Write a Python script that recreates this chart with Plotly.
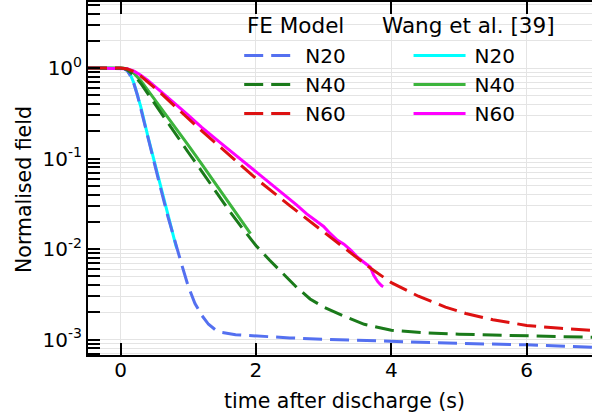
import plotly.graph_objects as go

# ---- data ----
t_fe20 = [-0.48, 0.0, 0.05, 0.1, 0.15, 0.2, 0.25, 0.3, 0.4, 0.5, 0.6, 0.7, 0.8, 0.9, 1.0, 1.1, 1.2, 1.3,
          1.4, 1.5, 1.7, 2.0, 2.5, 3.0, 4.0, 5.0, 6.0, 7.0]
v_fe20 = [1.0, 1.0, 0.989, 0.933, 0.813, 0.661, 0.501, 0.355, 0.174, 0.0871, 0.0447, 0.0229, 0.0123,
          0.00692, 0.00389, 0.00251, 0.00186, 0.00148, 0.00129, 0.00120, 0.001135, 0.001096, 0.001047,
          0.00101, 0.000955, 0.000912, 0.000877, 0.000822]

t_fe40 = [-0.48, 0.0, 0.05, 0.1, 0.2, 0.3, 0.4, 0.5, 0.6, 0.8, 1.0, 1.2, 1.4, 1.6, 1.8, 2.0, 2.2, 2.4,
          2.6, 2.8, 3.0, 3.3, 3.6, 4.0, 4.5, 5.0, 6.0, 7.0]
v_fe40 = [1.0, 1.0, 0.993, 0.955, 0.832, 0.676, 0.525, 0.407, 0.316, 0.191, 0.1175, 0.0724, 0.0437,
          0.0269, 0.0170, 0.01096, 0.00759, 0.00537, 0.0038, 0.00282, 0.00229, 0.00182, 0.00148,
          0.00127, 0.00119, 0.00115, 0.001096, 0.00106]

t_fe60 = [-0.48, 0.0, 0.1, 0.2, 0.3, 0.4, 0.6, 0.8, 1.0, 1.2, 1.5, 2.0, 2.5, 3.0, 3.5, 3.7, 4.0, 4.4,
          4.8, 5.1, 5.5, 6.0, 6.5, 7.0]
v_fe60 = [1.0, 1.0, 0.977, 0.912, 0.813, 0.708, 0.525, 0.380, 0.275, 0.202, 0.129, 0.0603, 0.0302,
          0.0155, 0.00794, 0.0061, 0.00427, 0.00302, 0.00229, 0.00195, 0.00166, 0.001435, 0.001334,
          0.00126]

t_w20 = [-0.48, 0.0, 0.05, 0.1, 0.15, 0.2, 0.25, 0.3, 0.4, 0.5, 0.6, 0.7, 0.8, 0.83]
v_w20 = [1.0, 1.0, 0.99, 0.944, 0.832, 0.676, 0.513, 0.372, 0.182, 0.0912, 0.0457, 0.0234, 0.0123,
         0.0102]

t_w40 = [-0.48, 0.0, 0.1, 0.2, 0.3, 0.4, 0.5, 0.6, 0.8, 1.0, 1.2, 1.4, 1.6, 1.8, 1.92]
v_w40 = [1.0, 1.0, 0.977, 0.871, 0.724, 0.575, 0.457, 0.363, 0.224, 0.141, 0.0871, 0.0537, 0.0324,
         0.01995, 0.0148]

t_w60 = [-0.48, 0.0, 0.1, 0.2, 0.3, 0.4, 0.6, 0.8, 1.0, 1.2, 1.5, 1.8, 2.0, 2.2, 2.4, 2.6, 2.75, 2.85,
         3.0, 3.1, 3.2, 3.3, 3.4, 3.5, 3.6, 3.69, 3.74, 3.8, 3.85, 3.88]
v_w60 = [1.0, 1.0, 0.982, 0.923, 0.832, 0.733, 0.550, 0.407, 0.302, 0.221, 0.1445, 0.0955, 0.0724,
         0.0550, 0.0417, 0.0309, 0.0245, 0.0214, 0.0178, 0.0148, 0.0126, 0.01135, 0.00977, 0.00813,
         0.00708, 0.00631, 0.00513, 0.00437, 0.00398, 0.00385]

names = ["N20", "N40", "N60"]
y_tickvals = [1e-3, 1e-2, 1e-1, 1.0]
y_ticktext = ["10<sup>-3</sup>", "10<sup>-2</sup>", "10<sup>-1</sup>", "10<sup>0</sup>"]
y_minorvals = [m * 10.0 ** e for e in (-4, -3, -2, -1, 0) for m in range(2, 10)]

FONT = "DejaVu Sans"
fe_colors = ["#5470f0", "#1a7a1a", "#dd1111"]
w_colors = ["#00ffff", "#3cb43c", "#ff00ff"]

fig = go.Figure()
fe_data = [(t_fe20, v_fe20), (t_fe40, v_fe40), (t_fe60, v_fe60)]
w_data = [(t_w20, v_w20), (t_w40, v_w40), (t_w60, v_w60)]

# Wang curves first (underneath), FE dashed curves on top
for i, (t, v) in enumerate(w_data):
    fig.add_trace(go.Scatter(x=t, y=v, mode="lines", name="\u2009" + names[i],
                             line=dict(color=w_colors[i], width=3),
                             legend="legend2", legendgroup="w%d" % i))
for i, (t, v) in enumerate(fe_data):
    fig.add_trace(go.Scatter(x=t, y=v, mode="lines", name="\u2009" + names[i],
                             line=dict(color=fe_colors[i], width=3, dash="19px,8px"),
                             legend="legend", legendgroup="fe%d" % i))

grid_c = "#e4e4e4"
fig.update_layout(
    width=592, height=412,
    margin=dict(l=88, r=0, t=2, b=57),
    paper_bgcolor="white", plot_bgcolor="white",
    font=dict(family=FONT, size=20, color="black"),
    showlegend=True,
    legend=dict(x=0.30, y=0.904, xanchor="left", yanchor="top", bgcolor="rgba(0,0,0,0)",
                font=dict(size=20), itemwidth=52, tracegroupgap=7.5, traceorder="normal"),
    legend2=dict(x=0.636, y=0.904, xanchor="left", yanchor="top", bgcolor="rgba(0,0,0,0)",
                 font=dict(size=20), itemwidth=52, tracegroupgap=7.5, traceorder="normal"),
    xaxis=dict(range=[-0.48, 6.964], tick0=0, dtick=2, ticks="inside", ticklen=12, tickwidth=2,
               tickcolor="black", showline=True, linecolor="black", linewidth=2, mirror="allticks",
               showgrid=True, gridcolor=grid_c, gridwidth=1, zeroline=False,
               tickfont=dict(size=20), ticklabelstandoff=-4),
    yaxis=dict(type="log", range=[-3.169, 0.729], tickmode="array", tickvals=y_tickvals,
               ticktext=y_ticktext, ticks="inside", ticklen=12, tickwidth=2, tickcolor="black",
               showline=True, linecolor="black", linewidth=2, mirror=False,
               showgrid=True, gridcolor=grid_c, gridwidth=1, zeroline=False,
               tickfont=dict(size=20),
               minor=dict(tickmode="array", tickvals=y_minorvals, ticks="inside", ticklen=12,
                          tickwidth=2, tickcolor="black", showgrid=True, gridcolor=grid_c,
                          gridwidth=1)),
    annotations=[
        dict(text="time after discharge (s)", x=344, y=401, font=dict(size=20.5)),
        dict(text="Normalised field", x=24, y=190, textangle=-90, font=dict(size=20.5)),
        dict(text="FE Model", x=245, y=25, xanchor="left", font=dict(size=21.5)),
        dict(text="Wang et al. [39]", x=380, y=25, xanchor="left", font=dict(size=21.5)),
    ],
)

# annotation positions given in pixels -> paper coordinates
L, R, T, B = 88, 592, 2, 355
for a in fig.layout.annotations:
    a.x = (a.x - L) / (R - L)
    a.y = (B - a.y) / (B - T)
    a.xref = "paper"
    a.yref = "paper"
    a.showarrow = False
    a.yanchor = "middle"
    if a.xanchor is None:
        a.xanchor = "center"

fig.write_html("out.html")
